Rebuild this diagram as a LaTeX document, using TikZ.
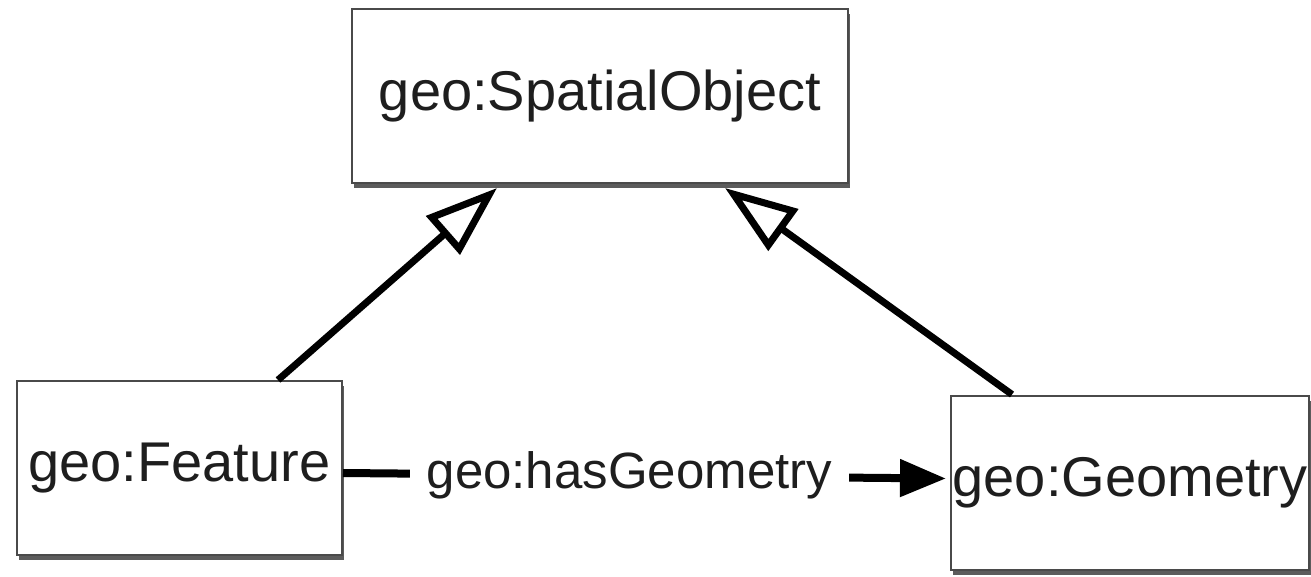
\documentclass[tikz,border=0pt]{standalone}
\usepackage{fontspec}
\setmainfont{Liberation Sans}
\usetikzlibrary{arrows.meta,shadows,calc}
\definecolor{txt}{HTML}{1E1E1E}
\definecolor{bord}{HTML}{4A4A4A}
\tikzset{
  cls/.style={draw=bord, line width=1pt, fill=white, text=txt, inner sep=0pt,
    font=\fontsize{28}{32}\selectfont, minimum height=87pt,
    drop shadow={shadow xshift=1pt, shadow yshift=-2.5pt, fill=black!75, opacity=0.85}},
  gen/.style={line width=3.5pt, -{Triangle[open, length=36pt, width=25pt, line width=3.5pt]}},
  assoc/.style={line width=4pt, -{Triangle[length=23pt, width=18pt]}},
  lbl/.style={fill=white, text=txt, inner xsep=8.5pt, inner ysep=2pt, font=\fontsize{25.5}{30}\selectfont}
}
\begin{document}
\begin{tikzpicture}[x=0.5pt, y=-0.5pt]
\useasboundingbox (0,0) rectangle (1311,577);
\node[cls, minimum width=248pt] (so) at (600,96) {geo:SpatialObject};
\node[cls, minimum width=162.5pt] (feat) at (179.5,468) {geo:Feature};
\node[cls, minimum width=179pt] (geom) at (1130,482.5) {geo:Geometry};
\draw[gen] ([xshift=49.25pt]feat.north) -- ([xshift=-51.5pt, yshift=-2pt]so.south);
\draw[gen] ([xshift=-59pt]geom.north) -- ([xshift=62.5pt, yshift=-2pt]so.south);
\draw[assoc] ([yshift=-2.5pt]feat.east) -- node[lbl, pos=0.475] (has) {geo:hasGeometry} ([xshift=-2pt, yshift=2pt]geom.west);
\end{tikzpicture}
\end{document}
